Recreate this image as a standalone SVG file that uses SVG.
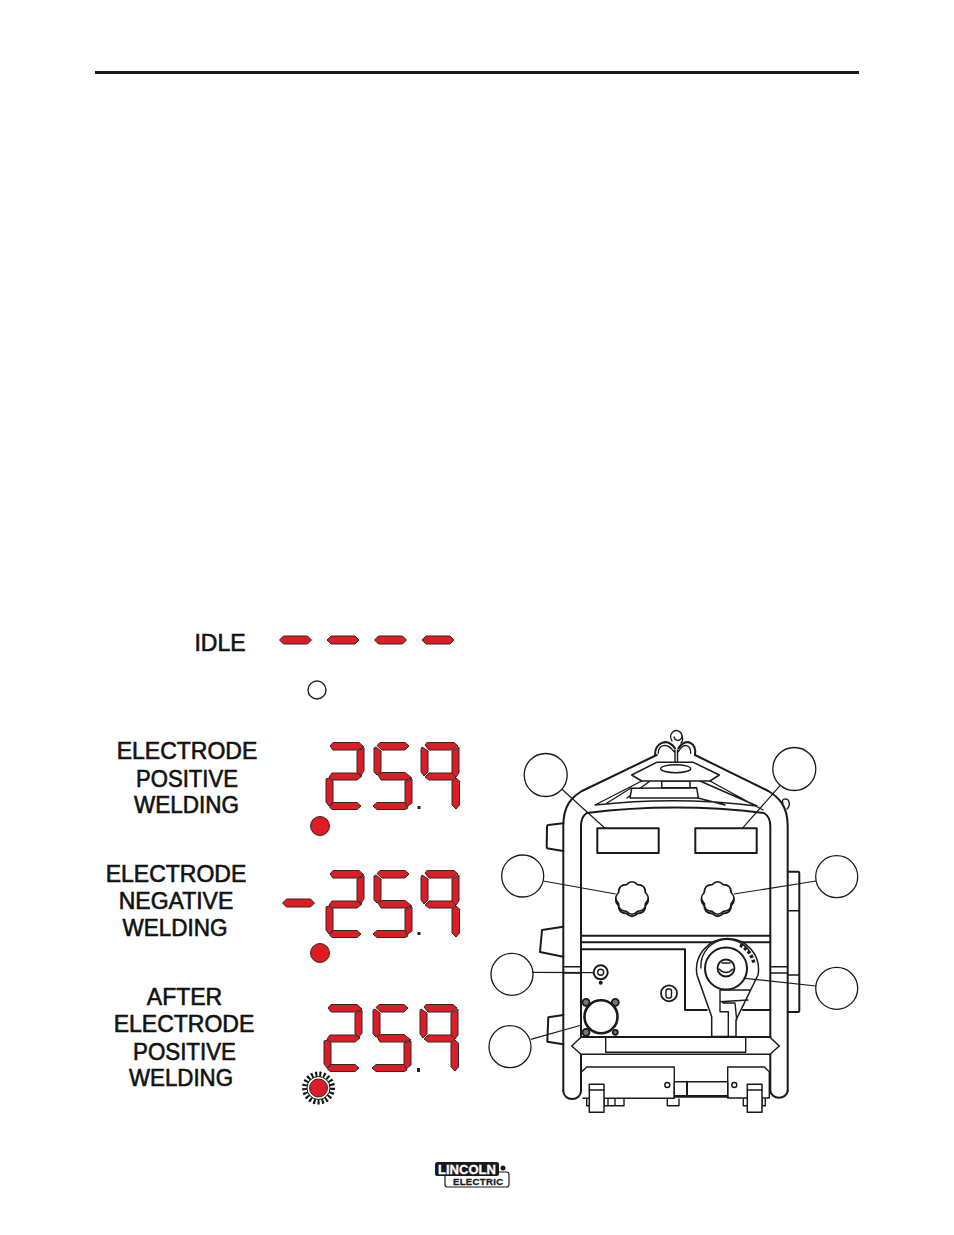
<svg xmlns="http://www.w3.org/2000/svg" width="954" height="1235" viewBox="0 0 954 1235">
<style>
.t{font-family:"Liberation Sans",Arial,sans-serif;font-size:23px;fill:#111;stroke:#111;stroke-width:.6;text-anchor:middle}
.seg polygon,.sg{fill:#e01b24;stroke:#2a2a2a;stroke-width:1;stroke-linejoin:round}
.l{fill:none;stroke:#1a1a1a;stroke-width:1.4;stroke-linejoin:round;stroke-linecap:round}
.h{fill:none;stroke:#1a1a1a;stroke-width:2;stroke-linejoin:round;stroke-linecap:round}
.w{fill:#fff;stroke:#1a1a1a;stroke-width:1.5;stroke-linejoin:round}
.c{fill:#fff;stroke:#1a1a1a;stroke-width:1.3}
.ld{fill:none;stroke:#1a1a1a;stroke-width:1.2}
</style>
<defs>
<g id="d2" class="seg"><polygon points="4,4 7,0.500 33,0.500 38,5 31,8 7,8"/><polygon points="38,6 38,29 35,33 31,30 31,9"/><polygon points="6,31 31,31 36,34 31,38 7,38 3,35"/><polygon points="0,37 3,36 7,39 7,60 3,64 0,60"/><polygon points="3.500,65 7,60.500 31,60.500 35,64 31,67.500 6,67.500"/></g>
<g id="d5" class="seg"><polygon points="3,3.500 6,0.500 31,0.500 35,4 31,8 8,8"/><polygon points="0,6 2,5 7,9 7,30 3,33 0,30"/><polygon points="4,33 8,30.500 31,30.500 38,36 31,38 7,38"/><polygon points="38,37 38,61 33,65 31,61 31,39"/><polygon points="-1,64 3,60.500 31,60.500 34,66 31,67.500 3,67.500"/></g>
<g id="d9" class="seg"><polygon points="4,3 6,0.500 33,0.500 37,4 31,8 8,8"/><polygon points="1,5 7,9 7,30 3,34 0,30 0,7"/><polygon points="38,5 38,31 35,35 31,31 31,9"/><polygon points="4,35 8,31 31,31 35,35 31,38 8,38"/><polygon points="31,39 35,36 38.500,39 38.500,63 35,67 31,63"/></g>
<polygon id="dash" class="sg" points="0,4 4,0 28,0 32,4 28,8 4,8"/>
<path id="knob" d="M13.400 -5.550Q19 0 13.400 5.550Q13.400 13.400 5.550 13.400Q0 19 -5.550 13.400Q-13.400 13.400 -13.400 5.550Q-19 0 -13.400 -5.550Q-13.400 -13.400 -5.550 -13.400Q0 -19 5.550 -13.400Q13.400 -13.400 13.400 -5.550Z"/>
</defs>

<rect id="top-rule" x="95" y="71" width="764" height="3" fill="#1a1a1a"/>

<g id="idle">
<text class="t" x="220" y="651">IDLE</text>
<use href="#dash" x="279.500" y="636"/><use href="#dash" x="327" y="636"/><use href="#dash" x="374.500" y="636"/><use href="#dash" x="422" y="636"/>
<circle cx="317" cy="690" r="9" fill="#fff" stroke="#222" stroke-width="1.4"/>
</g>

<g id="positive">
<text class="t" x="187" y="759">ELECTRODE</text><text class="t" x="187" y="787" textLength="102" lengthAdjust="spacingAndGlyphs">POSITIVE</text><text class="t" x="186.500" y="813" textLength="105" lengthAdjust="spacingAndGlyphs">WELDING</text>
<use href="#d2" x="326" y="742"/><use href="#d5" x="374" y="742"/><use href="#d9" x="421" y="742"/>
<rect x="417.500" y="806" width="3" height="3" fill="#222"/>
<circle cx="320" cy="826" r="9.500" class="sg"/>
</g>

<g id="negative">
<text class="t" x="176" y="882">ELECTRODE</text><text class="t" x="176" y="909">NEGATIVE</text><text class="t" x="175" y="936" textLength="105" lengthAdjust="spacingAndGlyphs">WELDING</text>
<use href="#dash" x="282.500" y="899"/>
<use href="#d2" x="326" y="870"/><use href="#d5" x="374" y="870"/><use href="#d9" x="421" y="870"/>
<rect x="417.500" y="932" width="3" height="3" fill="#222"/>
<circle cx="320" cy="953" r="9.500" class="sg"/>
</g>

<g id="after">
<text class="t" x="184.500" y="1005">AFTER</text><text class="t" x="184" y="1032">ELECTRODE</text><text class="t" x="184.500" y="1060" textLength="103" lengthAdjust="spacingAndGlyphs">POSITIVE</text><text class="t" x="181" y="1086" textLength="104" lengthAdjust="spacingAndGlyphs">WELDING</text>
<use href="#d2" x="324" y="1004"/><use href="#d5" x="373" y="1004"/><use href="#d9" x="420" y="1004"/>
<rect x="417" y="1068" width="3" height="4" fill="#222"/>
<circle cx="318.500" cy="1088" r="13.500" fill="none" stroke="#111" stroke-width="6" stroke-dasharray="2 2"/>
<circle cx="318.500" cy="1088" r="11.500" fill="#fff" stroke="#111" stroke-width="1"/>
<circle cx="318.500" cy="1088" r="9" class="sg"/>
</g>

<g id="welder">
<path class="h" d="M563.300 1091V826C563.300 805 572 797 582 791L656.700 755M695 755L768.300 791C778 797 787.700 805 787.700 826V1091"/>
<path class="h" d="M563.300 1091A8.800 8 0 0 0 581 1091M770.300 1091A8.800 8 0 0 0 787.700 1091"/>
<path class="h" d="M581 1091V826Q581 817 586.700 813Q675 802 764 813Q770.300 817 770.300 826V1091"/>
<path class="l" d="M595 805Q677 796 757 806M641.700 781L595 805M710 781L763 810M700 781L757 806M650 781L627 798M698 798L725 805M631 788L607 803"/>
<polygon class="w" points="630,798 631.700,788.300 696.700,787.700 698.300,798"/>
<rect class="w" x="661.700" y="781" width="28.300" height="6.700"/>
<polygon class="w" points="631.700,775 656.700,762.300 693.300,762.300 719.300,775 710,781 641.700,781"/>
<ellipse class="w" cx="675.700" cy="768.700" rx="15" ry="4"/>
<path class="h" d="M655 755C655 743.300 666.700 736.700 675 748.300M695 755C696.700 743.300 686.700 736.700 678.300 748.300"/>
<path class="l" d="M658.300 753.300C658.300 745 666.700 741.700 674 751.700M690.700 753.300C690.700 745 684 741.700 678.300 751.700M675 750V762M677.500 750V762"/>
<path class="l" d="M672 741C667 733 677 727 681 733C685 739 676 744 674 737M681 733C683 737 683 741 681 743"/>
<path class="l" d="M783 803C780 799 788 797 789 802C790 805 788 808 787 809"/>
<path class="h" d="M563.300 823.300L548.300 825Q547 825 547 827L546.700 847Q546.700 848.300 548 848.500L563.300 851M563.300 926.700L542 930L540 952L563.300 956.700M563.300 1015L548.300 1017.300L547.300 1041.700L563.300 1044.300"/>
<path class="h" d="M787.700 871.700H798Q799.300 871.700 799.300 873V1011Q799.300 1012 798 1012H787.700"/>
<path class="l" d="M787.700 910.700H799.300M787.700 975H799.300M563.300 966.700H581M563.300 973H581M770.300 966.700H787.700M770.300 973H787.700"/>
<rect class="h" x="597.300" y="828.300" width="61.400" height="24.700"/>
<rect class="h" x="695.300" y="828.300" width="61.400" height="24.700"/>
<use href="#knob" x="632" y="900" class="h"/>
<use href="#knob" x="632" y="898" fill="#fff" stroke="#1a1a1a" stroke-width="1.600"/>
<use href="#knob" x="717.700" y="900" class="h"/>
<use href="#knob" x="717.700" y="898" fill="#fff" stroke="#1a1a1a" stroke-width="1.600"/>
<path class="h" d="M581 935.700H770.300M581 942.300H770.300M581 949.300H685V1010H706.700M743 1010H770.300"/>
<circle cx="600.700" cy="972.300" r="7" fill="#fff" stroke="#1a1a1a" stroke-width="2"/><circle cx="600.700" cy="972.300" r="3" class="l"/><circle cx="600.700" cy="982.700" r="2" fill="#1a1a1a"/>
<circle cx="669" cy="993.300" r="8" fill="#fff" stroke="#1a1a1a" stroke-width="1.800"/><rect x="666" y="989" width="5.500" height="9" rx="2" class="l"/>
<g fill="#777" stroke="#1a1a1a" stroke-width="1.800"><circle cx="586" cy="1002.300" r="3.500"/><circle cx="615.300" cy="1002.300" r="3.500"/><circle cx="586" cy="1032.300" r="3.500"/><circle cx="615.300" cy="1032.300" r="2.500"/></g>
<circle cx="601" cy="1016.700" r="16.500" fill="#fff" stroke="#1a1a1a" stroke-width="2.600"/>
<path class="w" d="M697 975L711.700 1016.700V1036.500H736V1020L758 975A31 31 0 1 0 697 975Z"/>
<path class="l" d="M701 968A26.500 26.500 0 0 1 750 952M720 990V1011.700H728.300V1036M720 1001.700L748 1000M723 1003H735L736.700 1020M720 990H750"/>
<path d="M740 945A26 26 0 0 1 754 964" fill="none" stroke="#1a1a1a" stroke-width="3.500" stroke-dasharray="3 2"/>
<circle cx="726" cy="968.500" r="21" fill="#fff" stroke="#1a1a1a" stroke-width="2"/>
<circle cx="726" cy="968" r="8.500" fill="none" stroke="#1a1a1a" stroke-width="1.800"/>
<path class="l" d="M719 969Q726 976 733 969M722 963H730"/>
<polygon class="w" points="571.700,1046 581,1037.300 770,1037.300 779.300,1046 770,1054.300 581,1054.300" stroke-width="2"/>
<rect class="l" x="605.700" y="1037.300" width="140" height="15"/>
<path class="h" d="M581 1037H770.300" stroke-width="2.400"/>
<path class="l" d="M586.700 1099V1105.700H589.300M604 1099V1105.700H624V1099M608 1099V1105.700M615 1099V1105.700M667.300 1099V1105.700H679V1099M743.300 1099V1105.700H747.300M762 1099V1105.700H765.300V1099"/>
<path class="l" d="M581.700 1071.700L586.700 1067H674.300V1098.300H583M727.700 1098V1067H764.300L769.300 1071.700V1098H727.700Z"/>
<rect class="l" x="674.300" y="1081.700" width="53.400" height="14"/><path class="h" d="M687 1081.700V1095M674.300 1096.700H727.700"/>
<circle cx="667.300" cy="1085" r="2.500" class="l"/><circle cx="734.300" cy="1085" r="2.500" class="l"/>
<rect class="w" x="589.300" y="1084.300" width="14.700" height="28"/><rect class="w" x="747.300" y="1084.300" width="14.700" height="28"/>
<path class="l" d="M589.300 1090H604M747.300 1090H762"/>
</g>

<g id="connectors">
<path class="ld" d="M561.700 789L605 828.300M780 785.700L742.300 828.300M543.300 881L615.700 894M816 881L734 894M532.700 972.300L593.300 972.700M816 986L745 978.300M530.700 1039.300L581.700 1025"/>
</g>

<g id="callout-1"><circle class="c" cx="545.700" cy="775" r="21.500"/></g>
<g id="callout-2"><circle class="c" cx="794.300" cy="769" r="21.500"/></g>
<g id="callout-3"><circle class="c" cx="522.700" cy="876" r="21"/></g>
<g id="callout-4"><circle class="c" cx="836.700" cy="876.700" r="21"/></g>
<g id="callout-5"><circle class="c" cx="512" cy="974.300" r="21"/></g>
<g id="callout-6"><circle class="c" cx="836.700" cy="988.300" r="21"/></g>
<g id="callout-7"><circle class="c" cx="510" cy="1046.700" r="21"/></g>

<g id="logo">
<rect x="445" y="1172" width="64" height="15" rx="2.500" fill="#fff" stroke="#1a1a1a" stroke-width="1.200"/>
<rect x="435" y="1162" width="64" height="14" rx="2.500" fill="#1a1a1a"/>
<text x="438" y="1174" font-family="Liberation Sans,Arial,sans-serif" font-weight="bold" font-size="13.500" fill="#fff" stroke="#fff" stroke-width=".3" textLength="58" lengthAdjust="spacingAndGlyphs">LINCOLN</text>
<text x="453" y="1185" font-family="Liberation Sans,Arial,sans-serif" font-weight="bold" font-size="9.500" fill="#1a1a1a" stroke="#1a1a1a" stroke-width=".3" textLength="50" lengthAdjust="spacing">ELECTRIC</text>
<circle cx="503" cy="1168" r="2.500" fill="#1a1a1a"/>
</g>
</svg>
